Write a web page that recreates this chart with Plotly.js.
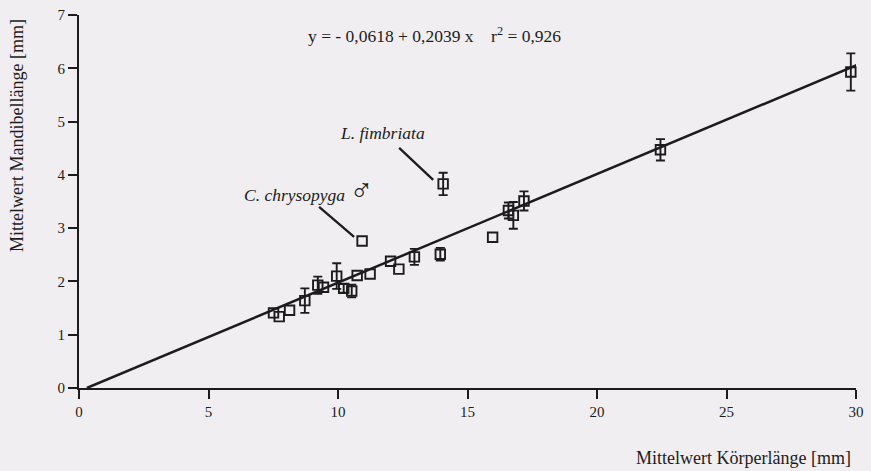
<!DOCTYPE html>
<html>
<head>
<meta charset="utf-8">
<script src="https://cdn.plot.ly/plotly-3.0.1.min.js"></script>
<style>
  html, body { margin: 0; padding: 0; background: #f0eef0; }
  #chart { width: 871px; height: 471px; }
</style>
</head>
<body>
<div id="chart"></div>
<script>
// Mean body length [mm]
const bodyLength = [7.51, 7.73, 8.13, 8.72, 9.22, 9.44, 9.95, 10.22, 10.53, 10.74, 11.24, 12.03, 12.35, 12.95, 13.95, 15.97, 16.58, 16.77, 17.18, 22.45, 29.8, 10.93, 14.06];
// Mean mandible length [mm]
const mandibleLength = [1.41, 1.34, 1.46, 1.64, 1.93, 1.89, 2.10, 1.87, 1.82, 2.11, 2.14, 2.38, 2.23, 2.46, 2.51, 2.83, 3.33, 3.24, 3.51, 4.47, 5.93, 2.76, 3.83];
// Error (± SD) of mandible length, 0 = no bar drawn
const mandibleErr = [0, 0, 0, 0.23, 0.16, 0, 0.24, 0.08, 0.12, 0, 0, 0, 0, 0.15, 0.12, 0, 0.15, 0.25, 0.18, 0.20, 0.35, 0, 0.21];

// Regression: y = a + b x
const intercept = -0.0618;
const slope = 0.2039;
const fitRangeX = [0.303, 30.1];

const xTicks = [0, 5, 10, 15, 20, 25, 30];
const yTicks = [0, 1, 2, 3, 4, 5, 6, 7];

const ink = '#1c1c1c';
const fontFam = 'Liberation Serif';

const withErr = { x: [], y: [], e: [] };
const noErr = { x: [], y: [] };
bodyLength.forEach((xv, i) => {
  if (mandibleErr[i] > 0) {
    withErr.x.push(xv); withErr.y.push(mandibleLength[i]); withErr.e.push(mandibleErr[i]);
  } else {
    noErr.x.push(xv); noErr.y.push(mandibleLength[i]);
  }
});

const markerStyle = { symbol: 'square-open', size: 9.5, color: ink, line: { width: 1.9, color: ink } };

const traces = [
  {
    x: fitRangeX,
    y: fitRangeX.map(v => intercept + slope * v),
    mode: 'lines',
    line: { color: ink, width: 2.5 },
    hoverinfo: 'skip',
    cliponaxis: false
  },
  {
    x: withErr.x, y: withErr.y,
    mode: 'markers',
    marker: markerStyle,
    error_y: { type: 'data', array: withErr.e, visible: true, color: ink, thickness: 1.9, width: 4.5 },
    cliponaxis: false
  },
  {
    x: noErr.x, y: noErr.y,
    mode: 'markers',
    marker: markerStyle,
    cliponaxis: false
  }
];

// index of labelled points
const iChrys = 21, iFimb = 22;

function leader(i, x0, y0, x1, y1) {
  return {
    type: 'line', xref: 'x', yref: 'y',
    xsizemode: 'pixel', ysizemode: 'pixel',
    xanchor: bodyLength[i], yanchor: mandibleLength[i],
    x0: x0, y0: y0, x1: x1, y1: y1,
    line: { color: ink, width: 2.3 }
  };
}

const layout = {
  width: 871, height: 471,
  margin: { l: 79, r: 15, t: 15, b: 83 },
  paper_bgcolor: '#f0eef0',
  plot_bgcolor: '#f0eef0',
  showlegend: false,
  font: { family: fontFam, color: ink, size: 14 },
  xaxis: {
    range: [0, 30], tickvals: xTicks, ticktext: xTicks.map(String),
    showgrid: false, zeroline: false, showline: true, linecolor: ink, linewidth: 2,
    ticks: 'outside', ticklen: 9, tickwidth: 2, tickcolor: ink,
    tickfont: { family: fontFam, size: 15, color: ink }
  },
  yaxis: {
    range: [0, 7], tickvals: yTicks, ticktext: yTicks.map(String),
    showgrid: false, zeroline: false, showline: true, linecolor: ink, linewidth: 2,
    ticks: 'outside', ticklen: 9, tickwidth: 2, tickcolor: ink,
    tickfont: { family: fontFam, size: 15, color: ink }
  },
  shapes: [
    leader(iFimb, -10, 4, -44, 36),
    leader(iChrys, -8, 4, -43, 34)
  ],
  annotations: [
    { xref: 'paper', yref: 'paper', x: 0.996, y: -0.188, xanchor: 'right', yanchor: 'middle',
      text: 'Mittelwert Körperlänge [mm]', showarrow: false, font: { family: fontFam, size: 18, color: ink } },
    { xref: 'paper', yref: 'paper', x: -0.08, y: 0.678, xanchor: 'center', yanchor: 'middle', textangle: -90,
      text: 'Mittelwert Mandibellänge [mm]', showarrow: false, font: { family: fontFam, size: 18, color: ink } },
    { xref: 'paper', yref: 'paper', x: 0.457, y: 0.946, xanchor: 'center', yanchor: 'middle',
      text: 'y = - 0,0618 + 0,2039 x &nbsp;&nbsp; r<sup>2</sup> = 0,926', showarrow: false,
      font: { family: fontFam, size: 17.5, color: ink } },
    { xref: 'x', yref: 'y', x: 11.73, y: 4.78, xanchor: 'center', yanchor: 'middle',
      text: '<i>L. fimbriata</i>', showarrow: false, font: { family: fontFam, size: 17.5, color: ink } },
    { xref: 'x', yref: 'y', x: 8.85, y: 3.72, xanchor: 'center', yanchor: 'middle',
      text: '<i>C. chrysopyga</i> <span style="font-size:32px">♂</span>', showarrow: false,
      font: { family: fontFam, size: 17.5, color: ink } }
  ]
};

Plotly.newPlot('chart', traces, layout, { staticPlot: true, displayModeBar: false });
</script>
</body>
</html>
